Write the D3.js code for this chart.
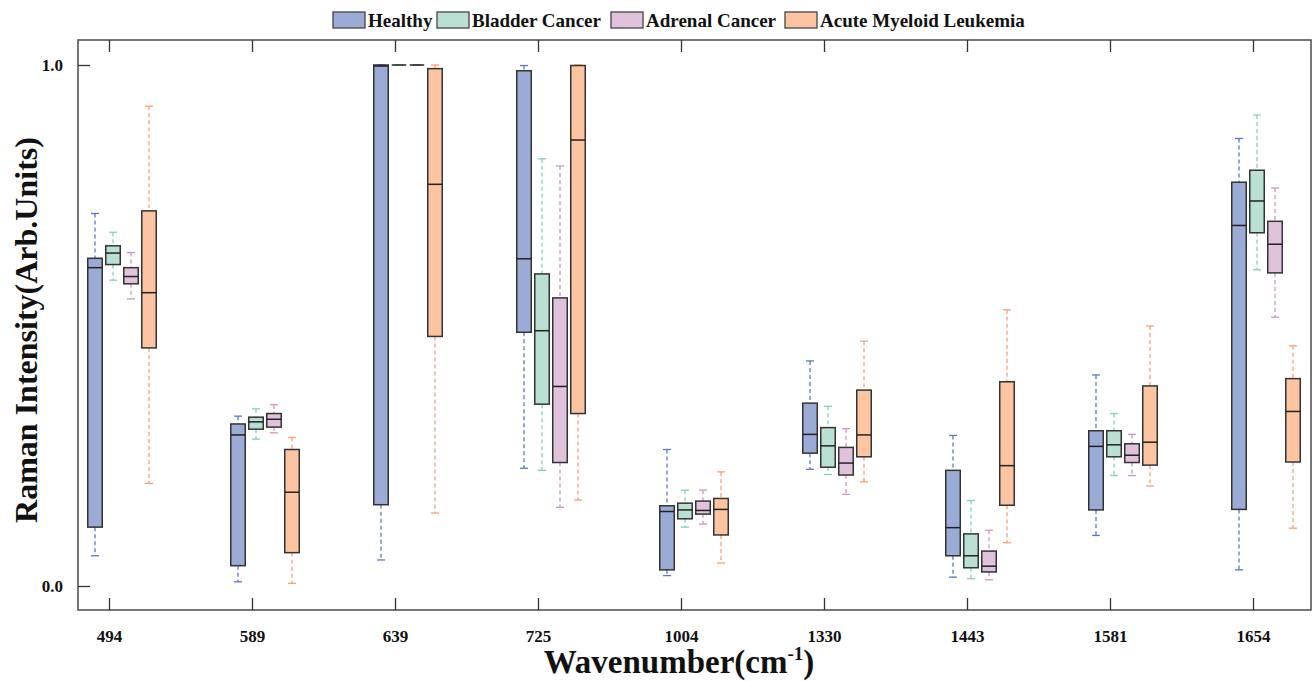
<!DOCTYPE html>
<html><head><meta charset="utf-8">
<script src="https://cdn.jsdelivr.net/npm/d3@7"></script>
<style>body{margin:0;background:#fff}svg{display:block}</style>
</head><body><svg id="c" width="1315" height="681"></svg>
<script>
const categories = ["494","589","639","725","1004","1330","1443","1581","1654"];
const seriesNames = ["Healthy","Bladder Cancer","Adrenal Cancer","Acute Myeloid Leukemia"];
const yTicks = [0, 1];
// each entry: [whiskerLow, q1, median, q3, whiskerHigh] per category
const healthy = [
  [0.058,0.113,0.611,0.629,0.715],
  [0.008,0.039,0.290,0.311,0.326],
  [0.050,0.156,0.998,1.000,1.000],
  [0.226,0.487,0.628,0.989,0.999],
  [0.020,0.031,0.143,0.154,0.262],
  [0.224,0.255,0.291,0.351,0.432],
  [0.017,0.058,0.112,0.222,0.289],
  [0.097,0.146,0.268,0.298,0.405],
  [0.031,0.147,0.692,0.775,0.859]
];
const bladder = [
  [0.587,0.617,0.639,0.653,0.679],
  [0.282,0.301,0.315,0.324,0.340],
  [1.000,1.000,1.000,1.000,1.000],
  [0.222,0.349,0.490,0.599,0.820],
  [0.113,0.129,0.146,0.159,0.184],
  [0.214,0.228,0.269,0.304,0.345],
  [0.014,0.035,0.058,0.100,0.164],
  [0.212,0.248,0.271,0.298,0.331],
  [0.607,0.678,0.739,0.798,0.904]
];
const adrenal = [
  [0.551,0.580,0.594,0.611,0.640],
  [0.294,0.305,0.320,0.331,0.348],
  [1.000,1.000,1.000,1.000,1.000],
  [0.151,0.237,0.383,0.553,0.806],
  [0.119,0.138,0.145,0.163,0.184],
  [0.176,0.213,0.236,0.266,0.302],
  [0.012,0.027,0.038,0.067,0.107],
  [0.212,0.237,0.251,0.273,0.291],
  [0.516,0.601,0.656,0.700,0.764]
];
const aml = [
  [0.197,0.457,0.563,0.720,0.921],
  [0.005,0.064,0.180,0.262,0.285],
  [0.140,0.479,0.771,0.993,1.000],
  [0.165,0.331,0.856,0.999,1.000],
  [0.044,0.098,0.147,0.168,0.219],
  [0.200,0.248,0.290,0.376,0.470],
  [0.083,0.155,0.231,0.392,0.530],
  [0.192,0.232,0.276,0.384,0.499],
  [0.111,0.238,0.335,0.398,0.461]
];
const seriesData = [healthy, bladder, adrenal, aml];
const fillColors = ["#9aabd5","#b9e0d3","#e1c2dc","#fdc4a1"];
const whiskerColors = ["#5b78c4","#86cfb4","#c997c3","#f7a077"];

const svg = d3.select("#c");
const font = "'Liberation Serif','Times New Roman',serif";
const L = 78, T = 40, R = 1311, B = 610;

const x = d3.scalePoint().domain(categories).range([109, 1253]);
const sub = d3.scalePoint().domain(seriesNames).range([-14, 40]);
const y = d3.scaleLinear().domain([0, 1]).range([586, 65]);
const bw = 14.5;

// boxes
seriesNames.forEach((s, si) => {
  const g = svg.append("g");
  const rows = seriesData[si].map((v, i) => ({cat: categories[i], v}));
  const cx = d => x(d.cat) + sub(s);
  g.selectAll("line.wu").data(rows).join("line")
    .attr("x1", cx).attr("x2", cx)
    .attr("y1", d => y(d.v[4])).attr("y2", d => y(d.v[3]))
    .attr("stroke", whiskerColors[si]).attr("stroke-width", 1.3).attr("stroke-dasharray", "4,3");
  g.selectAll("line.wl").data(rows).join("line")
    .attr("x1", cx).attr("x2", cx)
    .attr("y1", d => y(d.v[1])).attr("y2", d => y(d.v[0]))
    .attr("stroke", whiskerColors[si]).attr("stroke-width", 1.3).attr("stroke-dasharray", "4,3");
  ["cap0","cap4"].forEach((k, ki) => {
    g.selectAll("line." + k).data(rows).join("line")
      .attr("x1", d => cx(d) - 4).attr("x2", d => cx(d) + 4)
      .attr("y1", d => y(d.v[ki ? 4 : 0])).attr("y2", d => y(d.v[ki ? 4 : 0]))
      .attr("stroke", whiskerColors[si]).attr("stroke-width", 1.3);
  });
  g.selectAll("rect").data(rows).join("rect")
    .attr("x", d => cx(d) - bw / 2).attr("width", bw)
    .attr("y", d => y(d.v[3])).attr("height", d => Math.max(0, y(d.v[1]) - y(d.v[3])))
    .attr("fill", fillColors[si]).attr("stroke", "#333").attr("stroke-width", 1.5);
  g.selectAll("line.med").data(rows).join("line")
    .attr("x1", d => cx(d) - bw / 2).attr("x2", d => cx(d) + bw / 2)
    .attr("y1", d => y(d.v[2])).attr("y2", d => y(d.v[2]))
    .attr("stroke", "#222").attr("stroke-width", 1.5);
});

// frame
svg.append("rect").attr("x", L).attr("y", T).attr("width", R - L).attr("height", B - T)
  .attr("fill", "none").attr("stroke", "#555").attr("stroke-width", 1.6);

// axes
const xAxis = d3.axisBottom(x).tickSizeInner(-12).tickSizeOuter(0).tickPadding(20);
const gx = svg.append("g").attr("transform", `translate(0,${B})`).call(xAxis);
gx.select(".domain").remove();
gx.selectAll("line").attr("stroke", "#333").attr("stroke-width", 1.3);
gx.selectAll("text").attr("font-family", font).attr("font-weight", "bold").attr("font-size", 17).attr("fill", "#111");
const gxt = svg.append("g").attr("transform", `translate(0,${T})`).call(d3.axisTop(x).tickSizeInner(-12).tickSizeOuter(0).tickFormat(""));
gxt.select(".domain").remove();
gxt.selectAll("line").attr("stroke", "#333").attr("stroke-width", 1.3);

const yAxis = d3.axisLeft(y).tickValues(yTicks).tickFormat(d3.format(".1f")).tickSizeInner(-12).tickSizeOuter(0).tickPadding(15);
const gy = svg.append("g").attr("transform", `translate(${L},0)`).call(yAxis);
gy.select(".domain").remove();
gy.selectAll("line").attr("stroke", "#333").attr("stroke-width", 1.3);
gy.selectAll("text").attr("font-family", font).attr("font-weight", "bold").attr("font-size", 17).attr("fill", "#111");

// titles
svg.append("text").attr("transform", `translate(37,330) rotate(-90)`)
  .attr("text-anchor", "middle").attr("font-family", font).attr("font-weight", "bold")
  .attr("font-size", 32).attr("fill", "#111").text("Raman Intensity(Arb.Units)");
const xt = svg.append("text").attr("x", 679).attr("y", 673)
  .attr("text-anchor", "middle").attr("font-family", font).attr("font-weight", "bold")
  .attr("font-size", 33).attr("fill", "#111");
xt.append("tspan").text("Wavenumber(cm");
xt.append("tspan").attr("font-size", 19).attr("dy", -13).text("-1");
xt.append("tspan").attr("dy", 13).text(")");

// legend
const legX = [333, 437, 611, 785];
const lg = svg.append("g");
seriesNames.forEach((s, i) => {
  lg.append("rect").attr("x", legX[i]).attr("y", 12).attr("width", 32).attr("height", 16)
    .attr("fill", fillColors[i]).attr("stroke", "#444").attr("stroke-width", 1.3);
  lg.append("text").attr("x", legX[i] + 35).attr("y", 27).attr("font-family", font)
    .attr("font-weight", "bold").attr("font-size", 19).attr("fill", "#111").text(s);
});
</script></body></html>
